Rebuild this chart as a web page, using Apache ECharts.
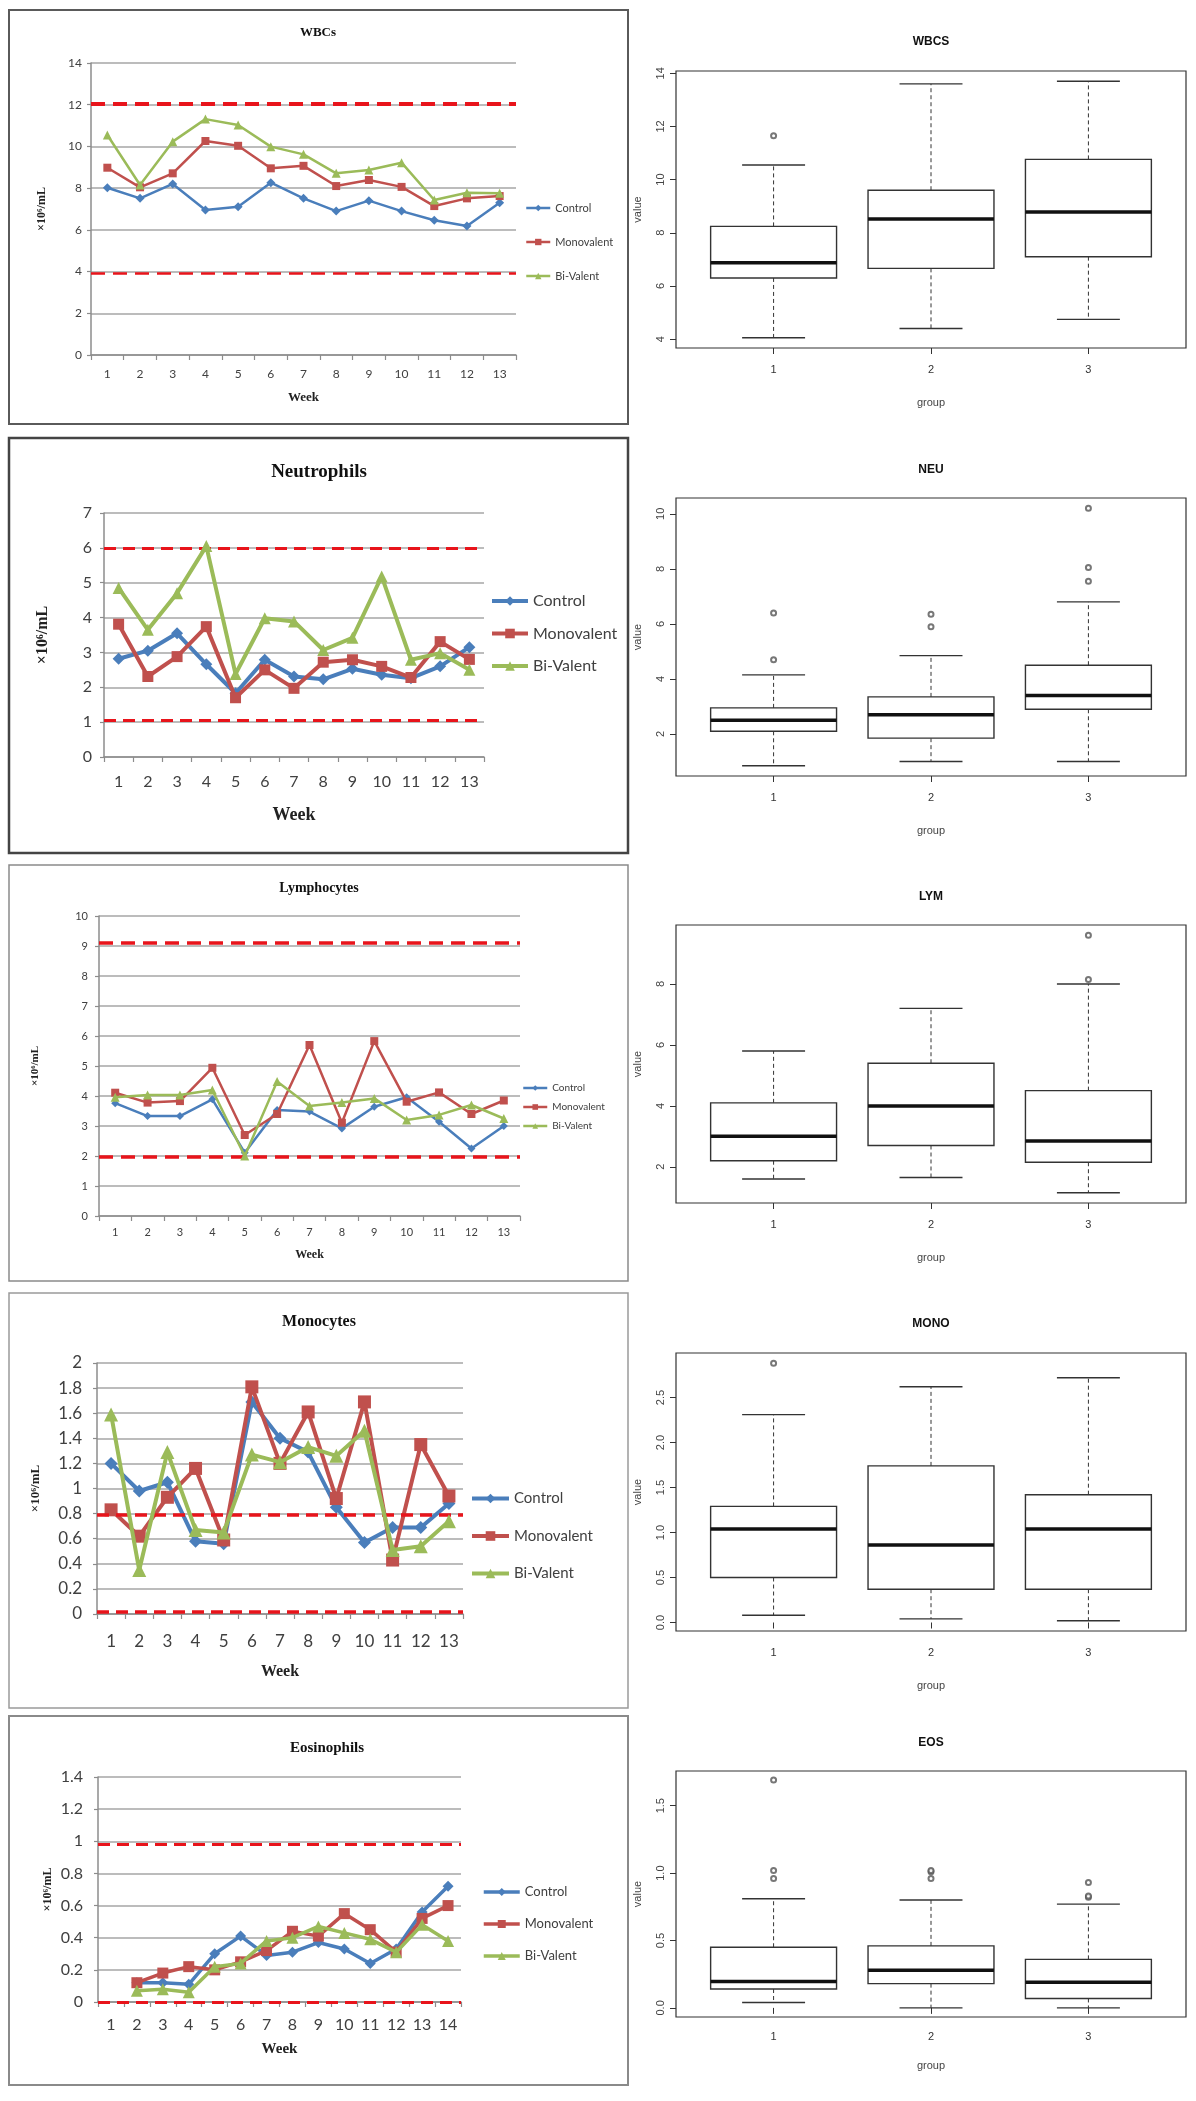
<!DOCTYPE html>
<html>
<head>
<meta charset="utf-8">
<title>Haematology panels</title>
<script src="https://cdn.jsdelivr.net/npm/echarts@6/dist/echarts.min.js"></script>
<style>
  html, body { margin: 0; padding: 0; background: #fff; }
  #main { width: 1196px; height: 2101px; }
</style>
</head>
<body>
<div id="main"></div>
<script>
// weeks on the x axis
var weeks13 = ['1','2','3','4','5','6','7','8','9','10','11','12','13'];
var weeks14 = ['1','2','3','4','5','6','7','8','9','10','11','12','13','14'];

// WBCs
var wbcControl = [8.02, 7.51, 8.2, 6.95, 7.11, 8.26, 7.51, 6.9, 7.4, 6.9, 6.46, 6.18, 7.3];
var wbcMono    = [8.98, 8.04, 8.71, 10.26, 10.03, 8.95, 9.07, 8.1, 8.39, 8.06, 7.14, 7.51, 7.62];
var wbcBi      = [10.55, 8.15, 10.23, 11.31, 11.03, 9.99, 9.62, 8.71, 8.87, 9.22, 7.43, 7.78, 7.75];
var wbcRef     = [12.03, 3.9];

// Neutrophils
var neuControl = [2.82, 3.05, 3.55, 2.66, 1.83, 2.79, 2.31, 2.23, 2.53, 2.36, 2.26, 2.6, 3.15];
var neuMono    = [3.81, 2.31, 2.88, 3.74, 1.7, 2.5, 1.97, 2.72, 2.79, 2.6, 2.28, 3.31, 2.8];
var neuBi      = [4.85, 3.65, 4.7, 6.05, 2.38, 3.98, 3.89, 3.07, 3.42, 5.18, 2.79, 2.98, 2.5];
var neuRef     = [6.0, 1.06];

// Lymphocytes
var lymControl = [3.76, 3.33, 3.33, 3.89, 2.11, 3.53, 3.48, 2.92, 3.64, 3.96, 3.14, 2.25, 3.0];
var lymMono    = [4.11, 3.78, 3.83, 4.94, 2.7, 3.4, 5.7, 3.11, 5.83, 3.81, 4.12, 3.4, 3.85];
var lymBi      = [3.96, 4.03, 4.03, 4.2, 2.0, 4.48, 3.67, 3.78, 3.92, 3.2, 3.37, 3.7, 3.25];
var lymRef     = [9.1, 1.96];

// Monocytes
var monoControl = [1.2, 0.98, 1.05, 0.58, 0.56, 1.69, 1.4, 1.29, 0.85, 0.57, 0.69, 0.69, 0.88];
var monoMono    = [0.83, 0.62, 0.93, 1.16, 0.59, 1.81, 1.2, 1.61, 0.92, 1.69, 0.43, 1.35, 0.94];
var monoBi      = [1.59, 0.35, 1.29, 0.67, 0.65, 1.27, 1.21, 1.33, 1.26, 1.46, 0.51, 0.54, 0.74];
var monoRef     = [0.79, 0.02];

// Eosinophils (no value for week 1)
var eosControl = [null, 0.12, 0.12, 0.11, 0.3, 0.41, 0.29, 0.31, 0.37, 0.33, 0.24, 0.33, 0.56, 0.72];
var eosMono    = [null, 0.12, 0.18, 0.22, 0.2, 0.25, 0.32, 0.44, 0.41, 0.55, 0.45, 0.31, 0.52, 0.6];
var eosBi      = [null, 0.07, 0.08, 0.06, 0.22, 0.24, 0.38, 0.4, 0.47, 0.43, 0.39, 0.31, 0.48, 0.38];
var eosRef     = [0.98, 0];

// box plots: [lower whisker, Q1, median, Q3, upper whisker] per group 1..3
var wbcsBox = [[4.05, 6.3, 6.87, 8.24, 10.55], [4.4, 6.66, 8.52, 9.6, 13.6], [4.74, 7.1, 8.78, 10.76, 13.7]];
var wbcsOut = [[1, 11.65]];
var neuBox  = [[0.85, 2.1, 2.5, 2.95, 4.15], [1.0, 1.85, 2.7, 3.35, 4.85], [1.0, 2.9, 3.4, 4.5, 6.8]];
var neuOut  = [[1, 4.7], [1, 6.4], [2, 5.9], [2, 6.35], [3, 7.55], [3, 8.05], [3, 10.2]];
var lymBox  = [[1.6, 2.2, 3.0, 4.1, 5.8], [1.65, 2.7, 4.0, 5.4, 7.2], [1.15, 2.15, 2.85, 4.5, 8.0]];
var lymOut  = [[3, 8.15], [3, 9.6]];
var monoBox = [[0.08, 0.5, 1.04, 1.29, 2.31], [0.04, 0.37, 0.86, 1.74, 2.62], [0.02, 0.37, 1.04, 1.42, 2.72]];
var monoOut = [[1, 2.88]];
var eosBox  = [[0.04, 0.14, 0.195, 0.45, 0.81], [0.0, 0.18, 0.28, 0.46, 0.8], [0.0, 0.07, 0.19, 0.36, 0.77]];
var eosOut  = [[1, 0.96], [1, 1.02], [1, 1.69], [2, 0.96], [2, 1.01], [2, 1.02], [3, 0.82], [3, 0.83], [3, 0.93]];

// tick labels of the box plots
var groupTicks = [1, 2, 3];
var wbcsTicks = [4, 6, 8, 10, 12, 14];
var neuTicks  = [2, 4, 6, 8, 10];
var lymTicks  = [2, 4, 6, 8];
var monoTicks = [0, 0.5, 1, 1.5, 2, 2.5, 3];
var eosTicks  = [0, 0.5, 1, 1.5];

var names = ['Control', 'Monovalent', 'Bi-Valent'];
var colors = ['#4A7EBB', '#C0504D', '#9BBB59'];
var symbols = ['diamond', 'rect', 'triangle'];
var refColor = '#E8141B';

var leftPanels = [
  {title: 'WBCs', cats: weeks13, values: [wbcControl, wbcMono, wbcBi], ref: wbcRef, max: 14, step: 2,
   frame: [9, 10, 619, 414], frameColor: '#5a5a5a', frameW: 2,
   grid: [91, 63, 425, 292], titleXY: [318, 33], titleSize: 13,
   tick: 12, labelMargin: 13, yMargin: 9, weekSize: 13, weekGap: 36, yNameSize: 12, yNameGap: 43,
   lw: 2.5, sym: [9, 8, 9], refW: [4, 2.5], dash: [14, 8],
   legend: {left: 525, top: 201, w: 24, h: 8, font: 11, lh: 14, gap: 20, lw: 2.5}},
  {title: 'Neutrophils', cats: weeks13, values: [neuControl, neuMono, neuBi], ref: neuRef, max: 7, step: 1,
   frame: [9, 438, 619, 415], frameColor: '#444', frameW: 2.5,
   grid: [104, 513, 380, 244], titleXY: [319, 472], titleSize: 19,
   tick: 16, labelMargin: 17, yMargin: 12, weekSize: 18, weekGap: 49, yNameSize: 16, yNameGap: 53,
   lw: 4, sym: [12, 11, 12], refW: [3, 3], dash: [12, 7],
   legend: {left: 490, top: 591, w: 36, h: 12, font: 16, lh: 20, gap: 12.5, lw: 4}},
  {title: 'Lymphocytes', cats: weeks13, values: [lymControl, lymMono, lymBi], ref: lymRef, max: 10, step: 1,
   frame: [9, 865, 619, 416], frameColor: '#8a8a8a', frameW: 1.5,
   grid: [99, 916, 421, 300], titleXY: [319, 888], titleSize: 14,
   tick: 11, labelMargin: 11, yMargin: 11, weekSize: 12, weekGap: 33, yNameSize: 11, yNameGap: 58,
   lw: 2.5, sym: [8, 8, 9], refW: [3.5, 3.5], dash: [14, 8],
   legend: {left: 522, top: 1082, w: 24, h: 7, font: 10, lh: 12, gap: 7, lw: 2.5}},
  {title: 'Monocytes', cats: weeks13, values: [monoControl, monoMono, monoBi], ref: monoRef, max: 2, step: 0.2,
   frame: [9, 1293, 619, 415], frameColor: '#9a9a9a', frameW: 1.5,
   grid: [97, 1363, 366, 251], titleXY: [319, 1322], titleSize: 16,
   tick: 17, labelMargin: 19, yMargin: 15, weekSize: 16, weekGap: 50, yNameSize: 13, yNameGap: 55,
   lw: 4, sym: [13, 13, 14], refW: [3.5, 3.5], dash: [12, 7],
   legend: {left: 470, top: 1489, w: 37, h: 12, font: 15, lh: 19, gap: 18.5, lw: 4}},
  {title: 'Eosinophils', cats: weeks14, values: [eosControl, eosMono, eosBi], ref: eosRef, max: 1.4, step: 0.2,
   frame: [9, 1716, 619, 369], frameColor: '#8a8a8a', frameW: 2,
   grid: [98, 1777, 363, 225], titleXY: [327, 1748], titleSize: 15,
   tick: 16, labelMargin: 15, yMargin: 15, weekSize: 15, weekGap: 40, yNameSize: 12, yNameGap: 44,
   lw: 3.5, sym: [11, 11, 12], refW: [3, 3], dash: [12, 7],
   legend: {left: 482, top: 1884, w: 36, h: 10, font: 13, lh: 16, gap: 16, lw: 3.5}}
];

var rightPanels = [
  {title: 'WBCS', box: wbcsBox, out: wbcsOut, ticks: wbcsTicks, top: 71, h: 277, titleY: 42, lblMargin: 16, groupGap: 49, dec: 0},
  {title: 'NEU', box: neuBox, out: neuOut, ticks: neuTicks, top: 498, h: 278, titleY: 470, lblMargin: 16, groupGap: 49, dec: 0},
  {title: 'LYM', box: lymBox, out: lymOut, ticks: lymTicks, top: 925, h: 278, titleY: 897, lblMargin: 16, groupGap: 49, dec: 0},
  {title: 'MONO', box: monoBox, out: monoOut, ticks: monoTicks, top: 1353, h: 278, titleY: 1324, lblMargin: 16, groupGap: 49, dec: 1},
  {title: 'EOS', box: eosBox, out: eosOut, ticks: eosTicks, top: 1771, h: 246, titleY: 1743, lblMargin: 14, groupGap: 43, dec: 1}
];

// R style range: data range padded by 4% each side
function rRange(box, out) {
  var vals = [];
  box.forEach(function (b) { vals = vals.concat(b); });
  out.forEach(function (o) { vals.push(o[1]); });
  var lo = Math.min.apply(null, vals), hi = Math.max.apply(null, vals);
  var pad = (hi - lo) * 0.04;
  return [lo - pad, hi + pad];
}

function renderBox(params, api) {
  var x = api.value(0);
  var lo = api.coord([x, api.value(1)]);
  var q1 = api.coord([x, api.value(2)]);
  var med = api.coord([x, api.value(3)]);
  var q3 = api.coord([x, api.value(4)]);
  var hi = api.coord([x, api.value(5)]);
  var hb = api.coord([x + 0.4, api.value(3)])[0] - med[0];
  var hc = hb / 2;
  var cx = med[0];
  var ink = '#333';
  return {
    type: 'group',
    children: [
      {type: 'line', shape: {x1: cx, y1: q3[1], x2: cx, y2: hi[1]}, style: {stroke: ink, lineWidth: 1, lineDash: [4, 3]}},
      {type: 'line', shape: {x1: cx, y1: q1[1], x2: cx, y2: lo[1]}, style: {stroke: ink, lineWidth: 1, lineDash: [4, 3]}},
      {type: 'line', shape: {x1: cx - hc, y1: hi[1], x2: cx + hc, y2: hi[1]}, style: {stroke: ink, lineWidth: 1.4}},
      {type: 'line', shape: {x1: cx - hc, y1: lo[1], x2: cx + hc, y2: lo[1]}, style: {stroke: ink, lineWidth: 1.4}},
      {type: 'rect', shape: {x: cx - hb, y: q3[1], width: 2 * hb, height: q1[1] - q3[1]}, style: {fill: '#fff', stroke: ink, lineWidth: 1.4}},
      {type: 'line', shape: {x1: cx - hb, y1: med[1], x2: cx + hb, y2: med[1]}, style: {stroke: '#111', lineWidth: 3.5}}
    ]
  };
}

var grids = [], xAxes = [], yAxes = [], series = [], legends = [], graphics = [];

leftPanels.forEach(function (p, i) {
  graphics.push({type: 'rect', shape: {x: p.frame[0], y: p.frame[1], width: p.frame[2], height: p.frame[3]},
    style: {fill: 'none', stroke: p.frameColor, lineWidth: p.frameW}, z: 0});
  graphics.push({type: 'text', x: p.titleXY[0], y: p.titleXY[1],
    style: {text: p.title, fontFamily: 'Liberation Serif', fontWeight: 'bold', fontSize: p.titleSize,
      fill: '#111', align: 'center', verticalAlign: 'middle'}, z: 10});
  grids.push({left: p.grid[0], top: p.grid[1], width: p.grid[2], height: p.grid[3]});
  xAxes.push({
    gridIndex: i, type: 'category', data: p.cats, boundaryGap: true,
    axisLine: {lineStyle: {color: '#8c8c8c', width: 1.5}},
    axisTick: {show: true, length: 5, lineStyle: {color: '#8c8c8c', width: 1.2}},
    axisLabel: {fontFamily: 'Lato', fontSize: p.tick, color: '#404040', margin: p.labelMargin, interval: 0},
    name: 'Week', nameLocation: 'middle', nameGap: p.weekGap,
    nameTextStyle: {fontFamily: 'Liberation Serif', fontWeight: 'bold', fontSize: p.weekSize, color: '#222'}
  });
  yAxes.push({
    gridIndex: i, type: 'value', min: 0, max: p.max, interval: p.step,
    axisLine: {show: true, lineStyle: {color: '#8c8c8c', width: 1.5}},
    axisTick: {show: true, length: 4, lineStyle: {color: '#8c8c8c', width: 1.2}},
    splitLine: {lineStyle: {color: '#a6a6a6', width: 1.5}},
    axisLabel: {fontFamily: 'Lato', fontSize: p.tick, color: '#404040', margin: p.yMargin},
    name: '×10⁶/mL', nameLocation: 'middle', nameRotate: 90, nameGap: p.yNameGap,
    nameTextStyle: {fontFamily: 'Liberation Serif', fontWeight: 'bold', fontSize: p.yNameSize, color: '#222'}
  });
  p.values.forEach(function (vals, k) {
    var s = {
      type: 'line', name: names[k], xAxisIndex: i, yAxisIndex: i, data: vals,
      symbol: symbols[k], symbolSize: p.sym[k], showAllSymbol: true,
      color: colors[k],
      lineStyle: {width: p.lw, color: colors[k]},
      itemStyle: {color: colors[k]},
      z: 3 + k
    };
    if (k === 0) {
      s.markLine = {
        silent: true, symbol: 'none', label: {show: false},
        lineStyle: {color: refColor, type: p.dash},
        data: [
          {yAxis: p.ref[0], lineStyle: {color: refColor, type: p.dash, width: p.refW[0]}},
          {yAxis: p.ref[1], lineStyle: {color: refColor, type: p.dash, width: p.refW[1]}}
        ]
      };
    }
    series.push(s);
  });
  legends.push({
    orient: 'vertical', left: p.legend.left, top: p.legend.top, padding: 0,
    itemWidth: p.legend.w, itemHeight: p.legend.h, itemGap: p.legend.gap,
    selectedMode: false, data: names,
    lineStyle: {width: p.legend.lw},
    textStyle: {fontFamily: 'Lato', fontSize: p.legend.font, lineHeight: p.legend.lh, color: '#404040'}
  });
});

rightPanels.forEach(function (p, j) {
  var i = leftPanels.length + j;
  var range = rRange(p.box, p.out);
  graphics.push({type: 'text', x: 931, y: p.titleY,
    style: {text: p.title, fontFamily: 'Liberation Sans', fontWeight: 'bold', fontSize: 12,
      fill: '#111', align: 'center', verticalAlign: 'middle'}, z: 10});
  grids.push({left: 676, top: p.top, width: 510, height: p.h, show: true, borderColor: '#333', borderWidth: 1.2,
    backgroundColor: 'transparent'});
  xAxes.push({
    gridIndex: i, type: 'value', min: 0.38, max: 3.62,
    axisLine: {show: false}, splitLine: {show: false},
    axisTick: {show: true, customValues: groupTicks, length: 6, lineStyle: {color: '#333'}},
    axisLabel: {customValues: groupTicks, fontFamily: 'Liberation Sans', fontSize: 11, color: '#333', margin: p.lblMargin},
    name: 'group', nameLocation: 'middle', nameGap: p.groupGap,
    nameTextStyle: {fontFamily: 'Liberation Sans', fontSize: 11, color: '#444'}
  });
  yAxes.push({
    gridIndex: i, type: 'value', min: range[0], max: range[1],
    axisLine: {show: false}, splitLine: {show: false},
    axisTick: {show: true, customValues: p.ticks, length: 6, lineStyle: {color: '#333'}},
    axisLabel: {customValues: p.ticks, rotate: 90, fontFamily: 'Liberation Sans', fontSize: 11, color: '#444', margin: 10,
      formatter: function (v) { return v.toFixed(p.dec); }},
    name: 'value', nameLocation: 'middle', nameRotate: 90, nameGap: 33,
    nameTextStyle: {fontFamily: 'Liberation Sans', fontSize: 11, color: '#444'}
  });
  series.push({
    type: 'custom', name: p.title + ' box', xAxisIndex: i, yAxisIndex: i,
    data: p.box.map(function (b, k) { return [groupTicks[k]].concat(b); }),
    encode: {x: 0, y: [1, 2, 3, 4, 5]},
    renderItem: renderBox, silent: true, z: 2
  });
  series.push({
    type: 'scatter', name: p.title + ' outliers', xAxisIndex: i, yAxisIndex: i, data: p.out,
    symbol: 'emptyCircle', symbolSize: 5, itemStyle: {color: '#555', borderWidth: 1}, silent: true, z: 3
  });
});

var chart = echarts.init(document.getElementById('main'), null, {renderer: 'canvas'});
chart.setOption({
  animation: false,
  backgroundColor: '#fff',
  grid: grids,
  xAxis: xAxes,
  yAxis: yAxes,
  legend: legends,
  graphic: graphics,
  series: series
});
</script>
</body>
</html>
